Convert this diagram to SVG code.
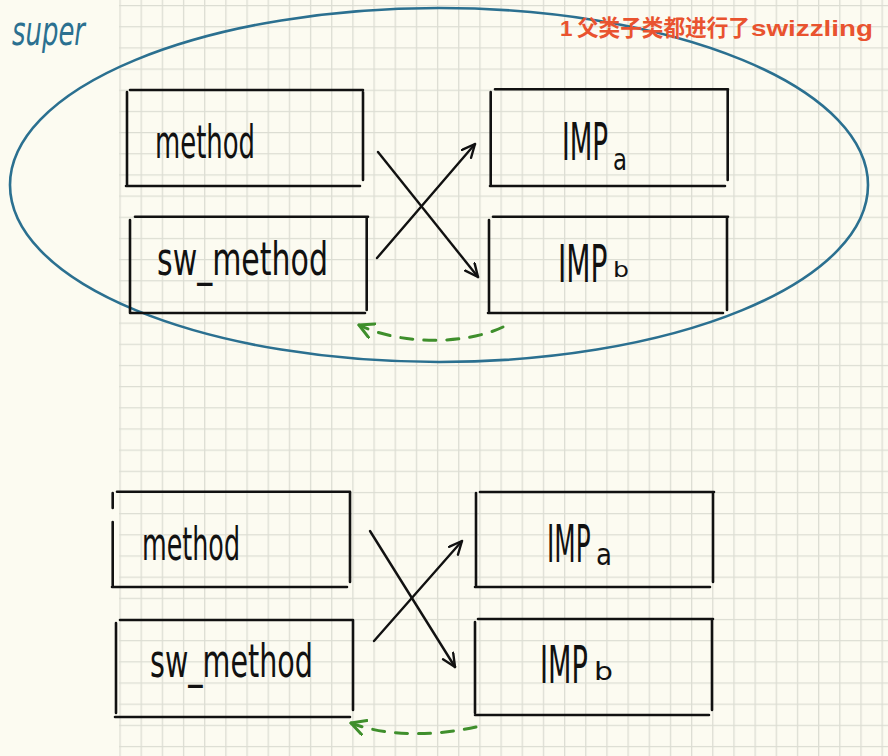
<svg xmlns="http://www.w3.org/2000/svg" width="888" height="756" viewBox="0 0 888 756">
<style>
.box{fill:none;stroke:#111;stroke-width:2.6;stroke-linecap:round}
.hw{font-family:"DejaVu Sans Condensed","DejaVu Sans",sans-serif;fill:#111}
.arrow{fill:none;stroke:#111;stroke-width:2.4;stroke-linecap:round}
.back{fill:none;stroke:#3f8f2c;stroke-width:3;stroke-dasharray:12 11;stroke-linecap:round}
</style>
<defs>
<pattern id="grid" patternUnits="userSpaceOnUse" x="119.4" y="5" width="21.17" height="21.17">
<path d="M0.6,0 V21.17 M0,0.6 H21.17" stroke="#dcddd3" stroke-width="1.4" fill="none"/>
</pattern>
<marker id="ah" markerUnits="userSpaceOnUse" markerWidth="20" markerHeight="20" viewBox="0 0 20 20" refX="14" refY="7" orient="auto">
<path d="M1,1 L14,7 L1,13" fill="none" stroke="#111" stroke-width="2.4" stroke-linecap="round" stroke-linejoin="round"/>
</marker>
<marker id="gh" markerUnits="userSpaceOnUse" markerWidth="22" markerHeight="22" viewBox="0 0 22 22" refX="15" refY="8" orient="auto">
<path d="M1,1 L15,8 L1,16" fill="none" stroke="#3f8f2c" stroke-width="3" stroke-linecap="round" stroke-linejoin="round"/>
</marker>
</defs>
<rect x="0" y="0" width="888" height="756" fill="#fcfbf1"/>
<rect x="119" y="0" width="769" height="756" fill="url(#grid)"/>

<g id="super-group">
<ellipse cx="439" cy="185" rx="429" ry="177" fill="none" stroke="#2b7090" stroke-width="2.6"/>
<text x="12" y="45" font-family="'DejaVu Sans Condensed','DejaVu Sans',sans-serif" font-size="40" font-style="italic" fill="#2b7090" textLength="73" lengthAdjust="spacingAndGlyphs">super</text>
</g>

<text id="title" y="36" font-family="'Liberation Sans','Noto Sans CJK SC',sans-serif" font-weight="bold" font-size="22.5" fill="#e9532f"><tspan x="560">1</tspan><tspan x="577" textLength="173" lengthAdjust="spacingAndGlyphs">父类子类都进行了</tspan><tspan x="751" textLength="122" lengthAdjust="spacingAndGlyphs">swizzling</tspan></text>

<g id="top-method">
<path class="box" d="M127,92 V185 M130,90 H363 M363,92 V180 M126,186 H360"/>
<text class="hw" x="155" y="158" font-size="46" textLength="100" lengthAdjust="spacingAndGlyphs">method</text>
</g>
<g id="top-sw-method">
<path class="box" d="M135,216.7 H368 M130,220 V313 M366.7,218 V310 M130,313 H365"/>
<text class="hw" x="157" y="275" font-size="46" textLength="171" lengthAdjust="spacingAndGlyphs">sw_method</text>
</g>
<g id="top-impa">
<path class="box" d="M490.7,92 V185 M495,89.3 H728 M727.7,90 V180 M490,186 H725"/>
<text class="hw" transform="translate(562,160) scale(0.56,1)" font-size="52">IMP</text>
<text class="hw" x="613" y="170" font-size="30" textLength="14" lengthAdjust="spacingAndGlyphs">a</text>
</g>
<g id="top-impb">
<path class="box" d="M493,216.7 H728 M489,220 V313 M727,218 V310 M488,313 H723"/>
<text class="hw" transform="translate(558,282) scale(0.6,1)" font-size="52">IMP</text>
<text class="hw" x="613" y="277" font-size="22" textLength="16" lengthAdjust="spacingAndGlyphs">b</text>
</g>

<g id="bottom-method">
<path class="box" d="M112.7,493 V508 M112.7,522 V587 M117,491.7 H350 M350,492 V582 M112,587 H347"/>
<text class="hw" x="142" y="560" font-size="46" textLength="98" lengthAdjust="spacingAndGlyphs">method</text>
</g>
<g id="bottom-sw-method">
<path class="box" d="M120,620 H353 M116,623 V713 M353,620 V710 M115,717 H350"/>
<text class="hw" x="150" y="677" font-size="46" textLength="163" lengthAdjust="spacingAndGlyphs">sw_method</text>
</g>
<g id="bottom-impa">
<path class="box" d="M476,493 V587 M480,492 H714 M713,492 V582 M475,587 H710"/>
<text class="hw" transform="translate(547,562) scale(0.53,1)" font-size="52">IMP</text>
<text class="hw" x="596" y="565" font-size="30" textLength="16" lengthAdjust="spacingAndGlyphs">a</text>
</g>
<g id="bottom-impb">
<path class="box" d="M478,619 H713 M475,622 V713 M712,620 V710 M475,715 H709"/>
<text class="hw" transform="translate(540,683) scale(0.58,1)" font-size="52">IMP</text>
<text class="hw" x="594" y="680" font-size="24" textLength="19" lengthAdjust="spacingAndGlyphs">b</text>
</g>

<g id="connectors">
<path class="arrow" d="M378,152 L478,277" marker-end="url(#ah)"/>
<path class="arrow" d="M377,258 L475,144" marker-end="url(#ah)"/>
<path class="back" d="M503,327 C465,345 400,345 359,325" marker-end="url(#gh)"/>
<path class="arrow" d="M370,531 L455,667" marker-end="url(#ah)"/>
<path class="arrow" d="M374,641 L462,541" marker-end="url(#ah)"/>
<path class="back" d="M476,727 C440,735 390,738 351,723" marker-end="url(#gh)"/>
</g>
</svg>
